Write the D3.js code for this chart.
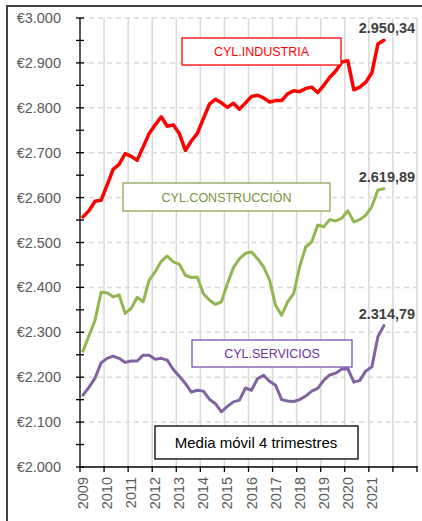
<!DOCTYPE html>
<html>
<head>
<meta charset="utf-8">
<script src="https://cdn.jsdelivr.net/npm/d3@7"></script>
<style>
  body { margin: 0; background: #fff; }
  svg { display: block; font-family: "Liberation Sans", Arial, sans-serif; }
  .grid-h { stroke: #d9d9d9; stroke-width: 1.5; stroke-dasharray: 5,4; }
  .grid-v { stroke: #d9d9d9; stroke-width: 1.5; }
  .axis line, .axis path { stroke: #000; stroke-width: 1.3; }
  .ylab, .xlab { fill: #595959; font-size: 14.5px; }
  .series { fill: none; stroke-linejoin: round; stroke-linecap: round; }
  .endlab { fill: #404040; font-size: 14.5px; font-weight: bold; }
</style>
</head>
<body>
<svg id="chart" width="422" height="521"></svg>
<script>
// quarterly 4-quarter moving averages, 2009 Q1 .. 2021 Q3
const industria = [2557,2571,2592,2594,2628,2663,2674,2698,2692,2683,
  2713,2743,2762,2780,2759,2762,2743,2705,2726,2743,
  2776,2808,2819,2811,2801,2810,2797,2811,2825,2828,
  2822,2813,2816,2816,2831,2838,2836,2843,2846,2834,
  2850,2868,2882,2902,2905,2840,2846,2857,2878,2942,2950.34];
const construccion = [2258,2293,2327,2389,2388,2379,2383,2342,2353,2378,
  2368,2416,2435,2458,2470,2457,2452,2427,2422,2423,
  2386,2372,2362,2368,2409,2444,2464,2476,2479,2464,
  2446,2416,2360,2338,2368,2386,2446,2490,2501,2539,
  2535,2551,2548,2554,2571,2546,2551,2561,2580,2617,2619.89];
const servicios = [2160,2178,2198,2232,2242,2247,2242,2233,2236,2236,
  2249,2249,2240,2242,2238,2217,2202,2186,2167,2171,
  2169,2151,2141,2123,2135,2145,2149,2176,2171,2197,
  2204,2191,2182,2150,2147,2146,2150,2158,2169,2175,
  2193,2205,2209,2218,2219,2189,2193,2214,2223,2290,2314.79];
const seriesNames = ["CYL.INDUSTRIA", "CYL.CONSTRUCCIÓN", "CYL.SERVICIOS"];
const yearTicks = [2009,2010,2011,2012,2013,2014,2015,2016,2017,2018,2019,2020,2021,2022,2023];
const yearLabels = ["2009","2010","2011","2012","2013","2014","2015","2016","2017","2018","2019","2020","2021","",""];
const yMajor = [2000,2100,2200,2300,2400,2500,2600,2700,2800,2900,3000];
const yMinor = [2050,2150,2250,2350,2450,2550,2650,2750,2850,2950];
const note = "Media móvil 4 trimestres";
const startYear = 2009;

const svg = d3.select("#chart");
const plotLeft = 80, plotRight = 417, plotTop = 18, plotBottom = 467;

const es = d3.formatLocale({ decimal: ",", thousands: ".", grouping: [3], currency: ["€", ""] });
const fmtAxis = es.format("$,.0f");
const fmtVal = es.format(",.2f");

const x = d3.scaleLinear().domain([2009, 2023]).range([plotLeft, plotRight]);
const y = d3.scaleLinear().domain([2000, 3000]).range([plotBottom, plotTop]);
const qx = (i) => x(startYear + (i + 0.5) / 4);

// outer frame (only left/top edges show)
svg.append("rect").attr("x", 7).attr("y", 6).attr("width", 430).attr("height", 530)
  .attr("fill", "#fff").attr("stroke", "#404040").attr("stroke-width", 2);

// gridlines
svg.selectAll("line.grid-v").data(yearTicks.slice(1)).join("line")
  .attr("class", "grid-v")
  .attr("x1", (d) => x(d)).attr("x2", (d) => x(d))
  .attr("y1", plotTop).attr("y2", plotBottom);
svg.selectAll("line.grid-h").data(yMajor.slice(1)).join("line")
  .attr("class", "grid-h")
  .attr("x1", plotLeft).attr("x2", plotRight)
  .attr("y1", (d) => y(d)).attr("y2", (d) => y(d));

// y axis
const yAxis = svg.append("g").attr("class", "axis");
yAxis.append("line").attr("x1", plotLeft).attr("x2", plotLeft).attr("y1", plotTop).attr("y2", plotBottom);
yAxis.selectAll("line.tk").data(yMajor.concat(yMinor)).join("line")
  .attr("class", "tk")
  .attr("x1", plotLeft - 4).attr("x2", plotLeft + 4)
  .attr("y1", (d) => y(d)).attr("y2", (d) => y(d));
svg.selectAll("text.ylab").data(yMajor).join("text")
  .attr("class", "ylab")
  .attr("x", 61).attr("y", (d) => y(d) + 5)
  .attr("text-anchor", "end")
  .text((d) => fmtAxis(d));

// x axis
const xAxis = svg.append("g").attr("class", "axis");
xAxis.append("line").attr("x1", plotLeft).attr("x2", plotRight).attr("y1", plotBottom).attr("y2", plotBottom);
xAxis.selectAll("line.tk").data(yearTicks).join("line")
  .attr("class", "tk")
  .attr("x1", (d) => x(d)).attr("x2", (d) => x(d))
  .attr("y1", plotBottom - 1).attr("y2", plotBottom + 5);
svg.selectAll("text.xlab").data(yearTicks).join("text")
  .attr("class", "xlab")
  .attr("transform", (d) => "translate(" + (x(d) + 3 + 5) + "," + (plotBottom + 10) + ") rotate(-90)")
  .attr("text-anchor", "end")
  .text((d, i) => yearLabels[i]);

// lines
const line = d3.line().x((d, i) => qx(i)).y((d) => y(d));
const series = [
  { name: seriesNames[0], values: industria, color: "#ff0000", width: 3.5, text: "#ff0000", border: "#ff0000",
    box: [182, 38, 159, 27] },
  { name: seriesNames[1], values: construccion, color: "#92b651", width: 3, text: "#76923c", border: "#8aa552",
    box: [123, 183, 207, 28] },
  { name: seriesNames[2], values: servicios, color: "#8064a2", width: 3, text: "#7030a0", border: "#7f4fb0",
    box: [192, 340, 160, 27] }
];

series.forEach((s) => {
  svg.append("path").datum(s.values).attr("class", "series")
    .attr("stroke", s.color).attr("stroke-width", s.width)
    .attr("d", line);
  const last = s.values.length - 1;
  svg.append("text").attr("class", "endlab")
    .attr("x", qx(last) + 3).attr("y", y(s.values[last]) - 7)
    .attr("text-anchor", "middle")
    .text(fmtVal(s.values[last]));
});

// name boxes
series.forEach((s) => {
  const [bx, by, bw, bh] = s.box;
  svg.append("rect").attr("x", bx).attr("y", by).attr("width", bw).attr("height", bh)
    .attr("fill", "#fff").attr("stroke", s.border).attr("stroke-width", 1.3);
  svg.append("text").attr("x", bx + bw / 2).attr("y", by + bh / 2 + 4.5)
    .attr("text-anchor", "middle").attr("fill", s.text).attr("font-size", "12.5px")
    .text(s.name);
});

// note box
svg.append("rect").attr("x", 155).attr("y", 426).attr("width", 203).attr("height", 33)
  .attr("fill", "#fff").attr("stroke", "#000").attr("stroke-width", 1.3);
svg.append("text").attr("x", 256).attr("y", 448)
  .attr("text-anchor", "middle").attr("fill", "#000").attr("font-size", "15px")
  .text(note);
</script>
</body>
</html>
